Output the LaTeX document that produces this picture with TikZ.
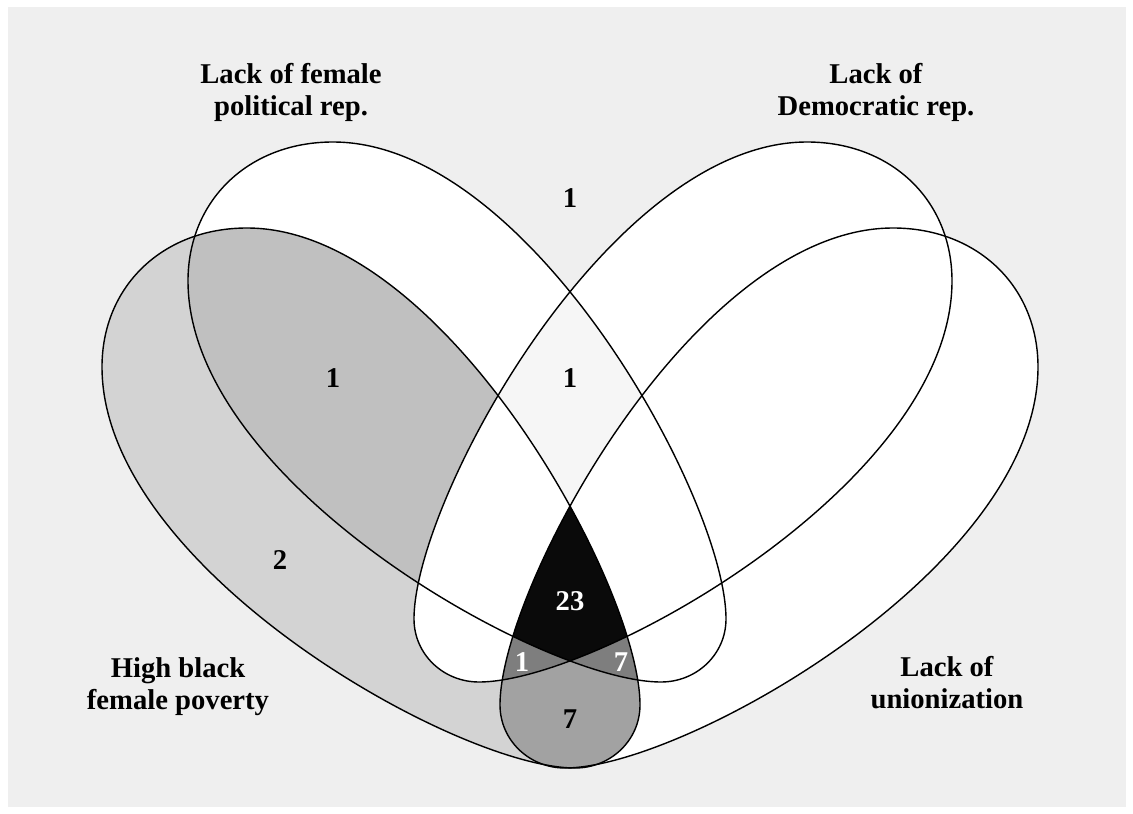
\documentclass[tikz,border=0pt]{standalone}
\usepackage{fontspec}
\setmainfont{Liberation Serif}
\usepackage{tikz}

\definecolor{backdrop}{HTML}{EFEFEF}
\definecolor{onlyB}{HTML}{D3D3D3}
\definecolor{AandB}{HTML}{C0C0C0}
\definecolor{AandC}{HTML}{F6F6F6}
\definecolor{BandD}{HTML}{A2A2A2}
\definecolor{threeset}{HTML}{7E7E7E}

% the four egg-shaped sets, in pixels (y grows downwards)
\newcommand{\shapeA}{(333,142) .. controls (530,142) and (726,500) .. (726,619)
    .. controls (726,654) and (697,682) .. (661,682)
    .. controls (543,682) and (188,482) .. (188,281)
    .. controls (188,200) and (249,142) .. (333,142) -- cycle}
\newcommand{\shapeB}{(247,228) .. controls (444,228) and (640,586) .. (640,705)
    .. controls (640,740) and (611,768) .. (575,768)
    .. controls (457,768) and (102,568) .. (102,367)
    .. controls (102,286) and (163,228) .. (247,228) -- cycle}
\newcommand{\shapeC}{(807,142) .. controls (610,142) and (414,500) .. (414,619)
    .. controls (414,654) and (443,682) .. (479,682)
    .. controls (597,682) and (952,482) .. (952,281)
    .. controls (952,200) and (891,142) .. (807,142) -- cycle}
\newcommand{\shapeD}{(893,228) .. controls (696,228) and (500,586) .. (500,705)
    .. controls (500,740) and (529,768) .. (565,768)
    .. controls (683,768) and (1038,568) .. (1038,367)
    .. controls (1038,286) and (977,228) .. (893,228) -- cycle}

\begin{document}
\begin{tikzpicture}[x=0.02cm,y=-0.02cm,
    font=\fontsize{16.3}{18.2}\selectfont\bfseries,
    outline/.style={draw=black,line width=0.8pt},
    setname/.style={align=center},
    tally/.style={inner sep=1pt}]
    \useasboundingbox (0,0) rectangle (1133,814);
    \fill[backdrop] (8,7) rectangle (1126,807);

    \fill[white] \shapeA;
    \fill[white] \shapeC;
    \fill[white] \shapeD;
    \fill[onlyB] \shapeB;
    \begin{scope}
        \clip \shapeA;
        \fill[AandB] \shapeB;
        \fill[AandC] \shapeC;
    \end{scope}
    \fill[white] \shapeD;
    \begin{scope}
        \clip \shapeB;
        \fill[white] \shapeC;
        \fill[BandD] \shapeD;
    \end{scope}
    \begin{scope}
        \clip \shapeB;
        \clip \shapeD;
        \fill[threeset] \shapeA;
        \fill[threeset] \shapeC;
        \clip \shapeA;
        \fill[black!96] \shapeC;
    \end{scope}

    \draw[outline] \shapeB;
    \draw[outline] \shapeA;
    \draw[outline] \shapeC;
    \draw[outline] \shapeD;

    \node[setname] (labA) at (291,92) {Lack of female\\political rep.};
    \node[setname] (labC) at (876,92) {Lack of\\Democratic rep.};
    \node[setname] (labB) at (178,687) {High black\\female poverty};
    \node[setname] (labD) at (947,683) {Lack of\\unionization};

    \node[tally] (nNone) at (570,198) {1};
    \node[tally] (nAC) at (570,378) {1};
    \node[tally] (nAB) at (333,378) {1};
    \node[tally] (nB) at (280,560) {2};
    \node[tally,text=white] (nABCD) at (570,601) {23};
    \node[tally,text=white] (nBCD) at (522,662) {1};
    \node[tally,text=white] (nABD) at (621,662) {7};
    \node[tally] (nBD) at (570,719) {7};
\end{tikzpicture}
\end{document}
